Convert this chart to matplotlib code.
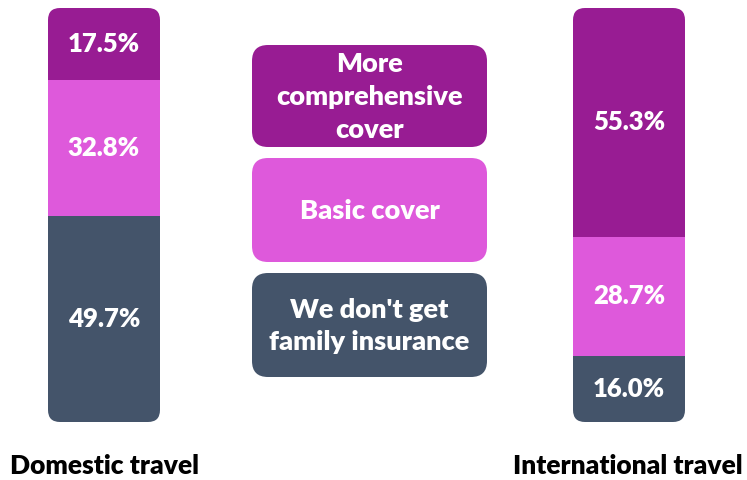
import matplotlib
matplotlib.use("Agg")
import matplotlib.pyplot as plt
from matplotlib.patches import FancyBboxPatch

# data
groups = ["Domestic travel", "International travel"]
categories = ["We don't get\nfamily insurance", "Basic cover", "More\ncomprehensive\ncover"]
no_insurance = [49.7, 16.0]
basic = [32.8, 28.7]
comprehensive = [17.5, 55.3]
colors = ["#44546A", "#DE59DB", "#981C93"]

plt.rcParams["font.family"] = ["Lato", "DejaVu Sans"]

W, H = 747, 480
fig = plt.figure(figsize=(W / 100, H / 100), dpi=100)

# bars axis: x in pixels, y in percent
bar_top, bar_bot = 8, 422
px_per_pct = (bar_bot - bar_top) / 100
ax = fig.add_axes([0, (H - bar_bot) / H, 1, (bar_bot - bar_top) / H])
ax.set_xlim(0, W)
ax.set_ylim(0, 100)
ax.axis("off")

xs = [104, 629]
bw = 112
series = [no_insurance, basic, comprehensive]
for i, x in enumerate(xs):
    clip = FancyBboxPatch((x - bw / 2, 0), bw, 100,
                          boxstyle="round,pad=0,rounding_size=12",
                          mutation_aspect=1 / px_per_pct,
                          facecolor="none", edgecolor="none",
                          transform=ax.transData)
    ax.add_patch(clip)
    bottom = 0
    for vals, c in zip(series, colors):
        v = vals[i]
        b = ax.bar(x, v, width=bw, bottom=bottom, color=c, linewidth=0)
        b[0].set_clip_path(clip)
        ax.text(x, bottom + v / 2, f"{v:.1f}%", ha="center", va="center",
                color="white", fontsize=18.5, fontweight="heavy")
        bottom += v

# legend boxes in pixel coordinates
lax = fig.add_axes([0, 0, 1, 1])
lax.set_xlim(0, W)
lax.set_ylim(H, 0)
lax.axis("off")
lax.patch.set_alpha(0)
boxes = [(273, 377), (158, 262), (45, 147)]
for (y0, y1), c, lab in zip(boxes, colors, categories):
    p = FancyBboxPatch((252, y0), 235, y1 - y0,
                       boxstyle="round,pad=0,rounding_size=16",
                       facecolor=c, edgecolor="none")
    lax.add_patch(p)
    lax.text(369.5, (y0 + y1) / 2 + 1, lab, ha="center", va="center",
             color="white", fontsize=19.5, fontweight="heavy", linespacing=1.45)

lax.text(105, 466, groups[0], ha="center", va="center",
         fontsize=19, fontweight="heavy", color="black")
lax.text(628, 466, groups[1], ha="center", va="center",
         fontsize=19, fontweight="heavy", color="black")

fig.savefig("out.png", dpi=100)
